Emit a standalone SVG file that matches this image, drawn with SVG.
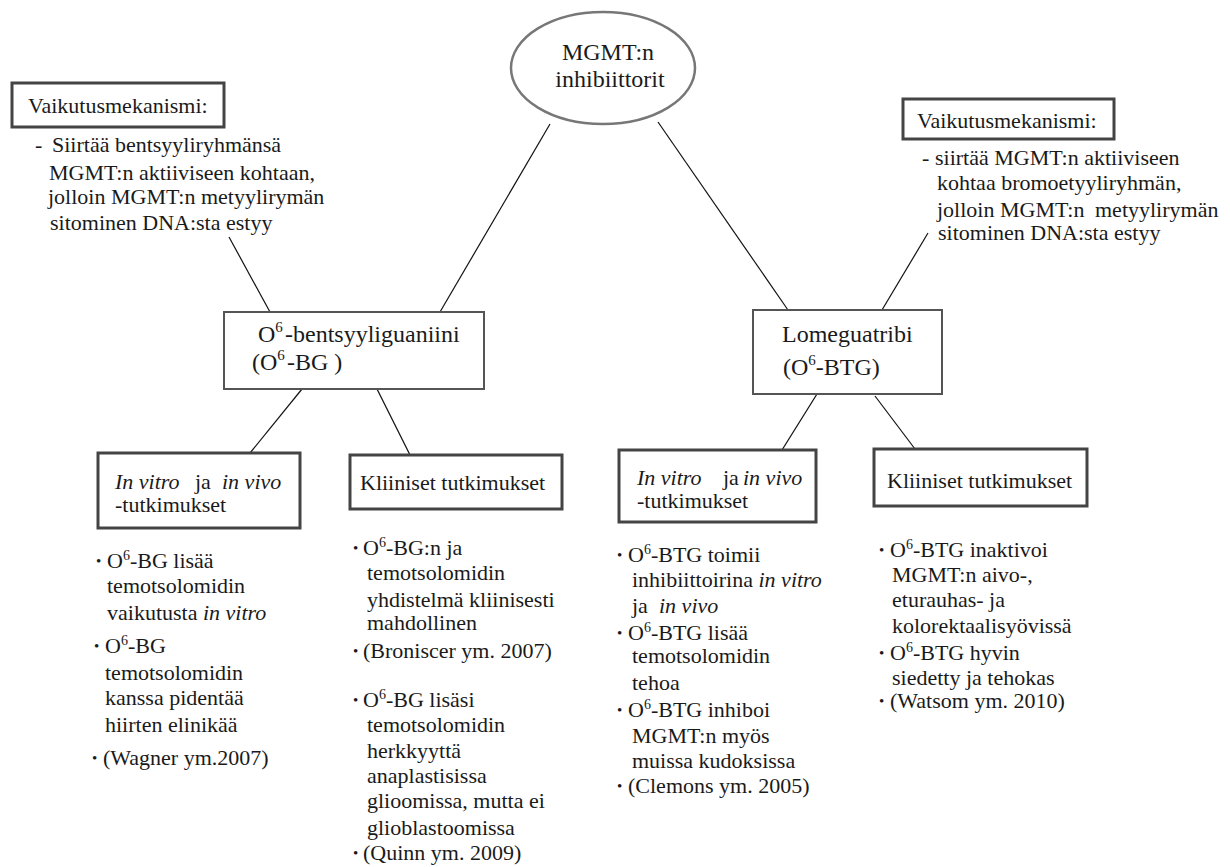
<svg xmlns="http://www.w3.org/2000/svg" width="1230" height="867" viewBox="0 0 1230 867">
<style>
.t{font-family:'Liberation Serif','DejaVu Serif','Noto Serif',serif;font-size:22px;fill:#1a1a1a}
.big{font-size:24px}
.b{font-family:'Liberation Serif','DejaVu Serif',serif;font-size:15px;fill:#1a1a1a}
.i{font-style:italic}
.box{fill:#fff;stroke:#444;stroke-width:3}
.box2{fill:#fff;stroke:#555;stroke-width:2}
.c{stroke:#111;stroke-width:1.2;fill:none}
</style>
<rect width="1230" height="867" fill="#fff"/>
<g id="connectors">
<line class="c" x1="550" y1="124" x2="440" y2="312"/>
<line class="c" x1="658" y1="122" x2="788" y2="310"/>
<line class="c" x1="229" y1="237" x2="270" y2="312"/>
<line class="c" x1="928" y1="233" x2="882" y2="310"/>
<line class="c" x1="302" y1="389" x2="250" y2="453"/>
<line class="c" x1="377" y1="389" x2="410" y2="455"/>
<line class="c" x1="817" y1="394" x2="782" y2="450"/>
<line class="c" x1="875" y1="396" x2="915" y2="449"/>
</g>
<g id="root">
<ellipse cx="603" cy="68" rx="92" ry="56" fill="#fff" stroke="#777" stroke-width="2.5"/>
<text class="t big" x="608" y="60" text-anchor="middle">MGMT:n</text>
<text class="t big" x="610" y="87" text-anchor="middle">inhibiittorit</text>
</g>
<g id="mech-left">
<rect class="box" x="12" y="83" width="212" height="44"/>
<text class="t" x="28" y="113">Vaikutusmekanismi:</text>
<text class="t" x="35" y="152">-</text>
<text class="t" x="52" y="152">Siirtää bentsyyliryhmänsä</text>
<text class="t" x="49" y="180">MGMT:n aktiiviseen kohtaan,</text>
<text class="t" x="48" y="204">jolloin MGMT:n metyylirymän</text>
<text class="t" x="50" y="230">sitominen DNA:sta estyy</text>
</g>
<g id="mech-right">
<rect class="box" x="903" y="99" width="211" height="40"/>
<text class="t" x="917" y="128">Vaikutusmekanismi:</text>
<text class="t" x="922" y="165">-</text>
<text class="t" x="935" y="165">siirtää MGMT:n aktiiviseen</text>
<text class="t" x="937" y="190">kohtaa bromoetyyliryhmän,</text>
<text class="t" x="937" y="217">jolloin MGMT:n<tspan x="1095">metyylirymän</tspan></text>
<text class="t" x="938" y="240">sitominen DNA:sta estyy</text>
</g>
<g id="o6bg">
<rect class="box2" x="224" y="312" width="260" height="77"/>
<text class="t big" x="258" y="342">O<tspan font-size="15" dy="-10">6</tspan><tspan x="285" dy="10">-bentsyyliguaniini</tspan></text>
<text class="t big" x="252" y="370">(O<tspan font-size="15" dy="-10">6</tspan><tspan x="287" dy="10">-BG )</tspan></text>
</g>
<g id="o6btg">
<rect class="box2" x="753" y="310" width="189" height="84"/>
<text class="t big" x="782" y="342">Lomeguatribi</text>
<text class="t big" x="783" y="375">(O<tspan font-size="15" dy="-10">6</tspan><tspan dy="10">-BTG)</tspan></text>
</g>
<g id="bg-invitro">
<rect class="box" x="98" y="453" width="202" height="75"/>
<text class="t" y="489"><tspan class="i" x="115">In vitro</tspan><tspan x="195">ja</tspan><tspan class="i" x="222">in vivo</tspan></text>
<text class="t" x="115" y="512">-tutkimukset</text>
</g>
<g id="bg-klin">
<rect class="box" x="350" y="455" width="212" height="54"/>
<text class="t" x="360" y="490">Kliiniset tutkimukset</text>
</g>
<g id="btg-invitro">
<rect class="box" x="619" y="450" width="197" height="72"/>
<text class="t" y="485"><tspan class="i" x="637">In vitro</tspan><tspan x="723">ja</tspan><tspan class="i" x="743">in vivo</tspan></text>
<text class="t" x="637" y="508">-tutkimukset</text>
</g>
<g id="btg-klin">
<rect class="box" x="874" y="449" width="213" height="57"/>
<text class="t" x="887" y="488">Kliiniset tutkimukset</text>
</g>
<g id="bg-invitro-list">
<text class="b" x="96" y="566">•</text>
<text class="t" x="107" y="568">O<tspan font-size="14" dy="-8">6</tspan><tspan dy="8">-BG lisää</tspan></text>
<text class="t" x="107" y="593">temotsolomidin</text>
<text class="t" x="107" y="620">vaikutusta <tspan class="i">in vitro</tspan></text>
<text class="b" x="94" y="651">•</text>
<text class="t" x="105" y="653">O<tspan font-size="14" dy="-8">6</tspan><tspan dy="8">-BG</tspan></text>
<text class="t" x="105" y="680">temotsolomidin</text>
<text class="t" x="105" y="705">kanssa pidentää</text>
<text class="t" x="105" y="732">hiirten elinikää</text>
<text class="b" x="92" y="763">•</text>
<text class="t" x="103" y="765">(Wagner ym.2007)</text>
</g>
<g id="bg-klin-list">
<text class="b" x="353" y="553">•</text>
<text class="t" x="363" y="555">O<tspan font-size="14" dy="-8">6</tspan><tspan dy="8">-BG:n ja</tspan></text>
<text class="t" x="367" y="580">temotsolomidin</text>
<text class="t" x="367" y="607">yhdistelmä kliinisesti</text>
<text class="t" x="367" y="630">mahdollinen</text>
<text class="b" x="353" y="656">•</text>
<text class="t" x="363" y="658">(Broniscer ym. 2007)</text>
<text class="b" x="353" y="705">•</text>
<text class="t" x="363" y="707">O<tspan font-size="14" dy="-8">6</tspan><tspan dy="8">-BG lisäsi</tspan></text>
<text class="t" x="367" y="732">temotsolomidin</text>
<text class="t" x="367" y="758">herkkyyttä</text>
<text class="t" x="367" y="783">anaplastisissa</text>
<text class="t" x="367" y="808">glioomissa, mutta ei</text>
<text class="t" x="367" y="835">glioblastoomissa</text>
<text class="b" x="353" y="858">•</text>
<text class="t" x="363" y="860">(Quinn ym. 2009)</text>
</g>
<g id="btg-invitro-list">
<text class="b" x="617" y="560">•</text>
<text class="t" x="628" y="562">O<tspan font-size="14" dy="-8">6</tspan><tspan dy="8">-BTG toimii</tspan></text>
<text class="t" x="632" y="587">inhibiittoirina <tspan class="i">in vitro</tspan></text>
<text class="t" x="632" y="613">ja<tspan class="i" x="659">in vivo</tspan></text>
<text class="b" x="617" y="638">•</text>
<text class="t" x="628" y="640">O<tspan font-size="14" dy="-8">6</tspan><tspan dy="8">-BTG lisää</tspan></text>
<text class="t" x="632" y="663">temotsolomidin</text>
<text class="t" x="632" y="690">tehoa</text>
<text class="b" x="617" y="715">•</text>
<text class="t" x="628" y="717">O<tspan font-size="14" dy="-8">6</tspan><tspan dy="8">-BTG inhiboi</tspan></text>
<text class="t" x="632" y="743">MGMT:n myös</text>
<text class="t" x="632" y="768">muissa kudoksissa</text>
<text class="b" x="617" y="791">•</text>
<text class="t" x="628" y="793">(Clemons ym. 2005)</text>
</g>
<g id="btg-klin-list">
<text class="b" x="879" y="555">•</text>
<text class="t" x="890" y="557">O<tspan font-size="14" dy="-8">6</tspan><tspan dy="8">-BTG inaktivoi</tspan></text>
<text class="t" x="892" y="582">MGMT:n aivo-,</text>
<text class="t" x="892" y="607">eturauhas- ja</text>
<text class="t" x="892" y="633">kolorektaalisyövissä</text>
<text class="b" x="879" y="658">•</text>
<text class="t" x="890" y="660">O<tspan font-size="14" dy="-8">6</tspan><tspan dy="8">-BTG hyvin</tspan></text>
<text class="t" x="892" y="685">siedetty ja tehokas</text>
<text class="b" x="879" y="706">•</text>
<text class="t" x="890" y="708">(Watsom ym. 2010)</text>
</g>
</svg>
